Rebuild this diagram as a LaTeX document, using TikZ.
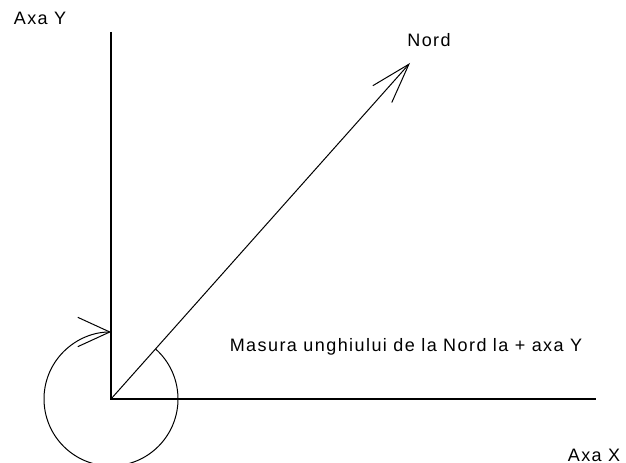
\documentclass[tikz,border=0pt]{standalone}
\usepackage{fontspec}
\newfontfamily\labelfont{Liberation Sans}[LetterSpace=8]
\usetikzlibrary{arrows.meta,calc}

\begin{document}
\begin{tikzpicture}[x=0.75pt,y=0.75pt, every node/.style={font=\labelfont\fontsize{13.5pt}{16pt}\selectfont},
    axisline/.style={line width=1.2pt},
    thinline/.style={line width=0.75pt}]
    \path[use as bounding box] (0,0) rectangle (626,463);
    \coordinate (O) at (111,64);
    \coordinate (ytop) at (111,431);
    \coordinate (xend) at (596,64);
    \coordinate (nordtip) at (410,400);
    \coordinate (arcstart) at ($(O)+(48.3:67)$);
    \node (axay) at (40,445) {Axa Y};
    \node (nord) at (429,423) {Nord};
    \node (masura) at (406,116) {Masura unghiului de la Nord la + axa Y};
    \node (axax) at (594,8) {Axa X};
    \draw[axisline] (ytop) -- (O) -- (xend);
    \draw[thinline, -{Straight Barb[length=30pt, width=19pt]}] (O) -- (nordtip);
    \draw[thinline, -{Straight Barb[length=24pt, width=22pt]}] (arcstart) arc[start angle=48.3, end angle=-270, radius=50.25pt];
\end{tikzpicture}
\end{document}
